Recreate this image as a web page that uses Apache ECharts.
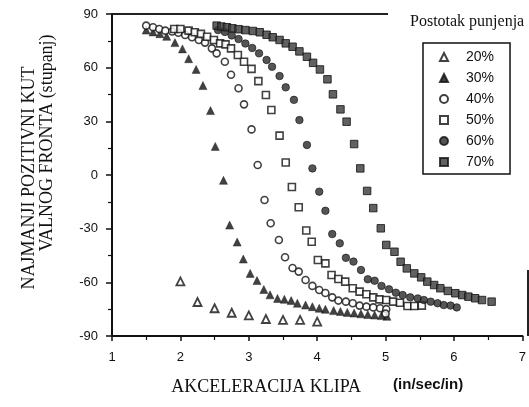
<!DOCTYPE html>
<html>
<head>
<meta charset="utf-8">
<script src="https://cdn.jsdelivr.net/npm/echarts@6/dist/echarts.min.js"></script>
<style>html,body{margin:0;padding:0;background:#fff;}#c{width:529px;height:407px;}</style>
</head>
<body>
<div id="c"></div>
<script>
const seriesNames = ['20%', '30%', '40%', '50%', '60%', '70%'];
const xTicks = [1, 2, 3, 4, 5, 6, 7];
const yTicks = [-90, -60, -30, 0, 30, 60, 90];

const fill20 = [[2.0,-59.5],[2.25,-71],[2.5,-74.5],[2.75,-77],[3.0,-78.5],[3.25,-80.5],[3.5,-81],[3.75,-81],[4.0,-82]];
const fill30 = [[1.5,81],[1.6,80],[1.7,79],[1.8,77.5],[1.92,74],[2.03,70.5],[2.12,65],[2.23,59],[2.33,50],[2.44,36],[2.51,16],[2.63,-3],[2.72,-28],[2.83,-37.5],[2.92,-47],[3.02,-55],[3.12,-59],[3.22,-64],[3.31,-67],[3.42,-69],[3.52,-69.5],[3.62,-70.2],[3.71,-71.7],[3.83,-72.7],[3.93,-73.6],[4.03,-74.5],[4.12,-75.1],[4.24,-75.8],[4.34,-76.3],[4.44,-76.8],[4.54,-77.2],[4.64,-77.6],[4.74,-78],[4.84,-78.3],[4.94,-78.6],[5.02,-79]];
const fill40 = [[1.5,83.5],[1.6,82.6],[1.69,81.6],[1.78,80.7],[1.88,80.2],[1.97,79.5],[2.07,78.3],[2.17,77],[2.27,75.5],[2.36,74],[2.46,70.8],[2.53,68],[2.65,63.3],[2.74,56],[2.85,48.5],[2.93,39.5],[3.04,25.5],[3.13,5.6],[3.23,-14],[3.32,-27],[3.44,-36.3],[3.53,-46],[3.64,-52],[3.73,-54],[3.83,-58.7],[3.93,-62],[4.03,-64.3],[4.12,-66],[4.22,-68.4],[4.31,-70.2],[4.42,-70.8],[4.52,-71.7],[4.62,-73],[4.72,-73.6],[4.82,-74],[4.92,-74.5],[5.01,-75],[5.0,-77.5]];
const fill50 = [[1.91,81.6],[2.0,81.6],[2.12,80.7],[2.21,79.8],[2.3,78.9],[2.39,77.3],[2.49,75.5],[2.58,73.6],[2.66,73],[2.74,70.8],[2.84,67.1],[2.93,63.3],[3.04,59.3],[3.14,52.5],[3.25,44.7],[3.33,36.3],[3.45,22],[3.54,7],[3.63,-6.7],[3.73,-18],[3.84,-31],[3.92,-37.3],[4.01,-47.5],[4.12,-49.4],[4.21,-55.9],[4.31,-58.1],[4.41,-59.6],[4.52,-63.3],[4.62,-65.2],[4.72,-66.7],[4.82,-68.4],[4.91,-69.5],[5.01,-69.9],[5.11,-70.8],[5.21,-71.4],[5.32,-73.2],[5.42,-73.2],[5.53,-73]];
const fill60 = [[2.55,81],[2.65,80],[2.75,78],[2.85,76],[2.95,73.5],[3.05,71],[3.15,68],[3.26,64.3],[3.34,60.5],[3.45,55.3],[3.54,49],[3.66,42],[3.74,30.7],[3.85,16.8],[3.93,3.7],[4.03,-9.3],[4.12,-20],[4.22,-33],[4.33,-38.2],[4.42,-46.3],[4.53,-48.4],[4.64,-53.1],[4.74,-58.3],[4.84,-59.1],[4.94,-62],[5.05,-63.9],[5.15,-65.8],[5.25,-67.1],[5.36,-68.4],[5.47,-69],[5.56,-69.9],[5.66,-70.8],[5.76,-71.7],[5.85,-72.7],[5.95,-73],[6.04,-74]];
const fill70 = [[2.53,83.5],[2.6,83],[2.68,82.6],[2.76,82],[2.85,81.5],[2.95,81],[3.06,80.5],[3.16,79.8],[3.26,78.4],[3.35,77],[3.45,75.5],[3.54,73.6],[3.64,71.7],[3.74,69.1],[3.85,66.1],[3.94,62.7],[4.04,59],[4.15,53.5],[4.23,45.1],[4.34,36.7],[4.43,29.8],[4.54,17.3],[4.63,3.7],[4.73,-8.9],[4.82,-18.5],[4.93,-29.8],[5.01,-39.1],[5.13,-42.9],[5.22,-48.5],[5.31,-52.2],[5.42,-55],[5.52,-57.2],[5.61,-59.6],[5.71,-61.5],[5.8,-63.3],[5.91,-64.8],[6.02,-66.1],[6.12,-67.1],[6.21,-68],[6.31,-68.9],[6.41,-69.9],[6.55,-70.8]];

const seriesData = [fill20, fill30, fill40, fill50, fill60, fill70];
const seriesStyles = [
  {symbol:'triangle', symbolSize:8, itemStyle:{color:'#fff', borderColor:'#111', borderWidth:1.8}},
  {symbol:'triangle', symbolSize:8, itemStyle:{color:'#111', borderColor:'#111', borderWidth:0.5}},
  {symbol:'circle', symbolSize:7, itemStyle:{color:'#fff', borderColor:'#111', borderWidth:1.6}},
  {symbol:'rect', symbolSize:7, itemStyle:{color:'#fff', borderColor:'#111', borderWidth:1.6}},
  {symbol:'circle', symbolSize:7.5, itemStyle:{color:'#2a2a2a', borderColor:'#111', borderWidth:0.8}},
  {symbol:'rect', symbolSize:7.5, itemStyle:{color:'#3a3a3a', borderColor:'#111', borderWidth:1}}
];

const chart = echarts.init(document.getElementById('c'), null, {renderer:'canvas'});
const serif = 'Liberation Serif';
const sans = 'Liberation Sans';

chart.setOption({
  animation: false,
  backgroundColor: '#fff',
  grid: {left:112, right:1, top:14, bottom:71, containLabel:false},
  xAxis: {
    type:'value', min:xTicks[0], max:xTicks[xTicks.length-1], interval:1,
    axisLine:{show:true, onZero:false, lineStyle:{color:'#111', width:2}},
    axisTick:{show:true, length:5, lineStyle:{color:'#111', width:1.5}},
    minorTick:{show:true, splitNumber:2, length:4, lineStyle:{color:'#111', width:1.2}},
    splitLine:{show:false},
    axisLabel:{fontFamily:sans, fontSize:13, color:'#111', margin:15},
    name:'{a|AKCELERACIJA KLIPA}{b|(in/sec/in)}',
    nameLocation:'middle', nameGap:41,
    nameTextStyle:{rich:{
      a:{fontFamily:serif, fontSize:18, color:'#111', padding:[0,32,0,0]},
      b:{fontFamily:sans, fontSize:15, fontWeight:'bold', color:'#111', padding:[0,0,6,0]}
    }}
  },
  yAxis: {
    type:'value', min:yTicks[0], max:yTicks[yTicks.length-1], interval:30,
    axisLine:{show:true, onZero:false, lineStyle:{color:'#111', width:2}},
    axisTick:{show:true, length:6, lineStyle:{color:'#111', width:1.5}},
    minorTick:{show:true, splitNumber:2, length:4, lineStyle:{color:'#111', width:1.2}},
    splitLine:{show:false},
    axisLabel:{fontFamily:sans, fontSize:13, color:'#111', margin:14}
  },
  legend: {
    orient:'vertical', left:423, top:43,
    padding:[7,16,5,16],
    itemWidth:8, itemHeight:8, itemGap:7,
    borderColor:'#111', borderWidth:1.5,
    textStyle:{fontFamily:sans, fontSize:14, color:'#111', padding:[0,0,0,13]},
    data: seriesNames
  },
  graphic: [
    {type:'line', shape:{x1:112, y1:14, x2:388, y2:14}, style:{stroke:'#222', lineWidth:2}},
    {type:'line', shape:{x1:528, y1:270, x2:528, y2:336}, style:{stroke:'#222', lineWidth:2}},
    {type:'text', x:410, y:22, style:{text:'Postotak punjenja', font:'16px "Liberation Serif"', fill:'#111', textAlign:'left', textVerticalAlign:'middle'}},
    {type:'text', x:29, y:178, rotation:Math.PI/2, style:{text:'NAJMANJI POZITIVNI KUT', font:'18px "Liberation Serif"', fill:'#111', textAlign:'center', textVerticalAlign:'middle'}},
    {type:'text', x:47, y:143, rotation:Math.PI/2, style:{text:'VALNOG FRONTA (stupanj)', font:'18px "Liberation Serif"', fill:'#111', textAlign:'center', textVerticalAlign:'middle'}}
  ],
  series: seriesNames.map((n, i) => Object.assign({
    name:n, type:'scatter', data:seriesData[i]
  }, seriesStyles[i]))
});
</script>
</body>
</html>
